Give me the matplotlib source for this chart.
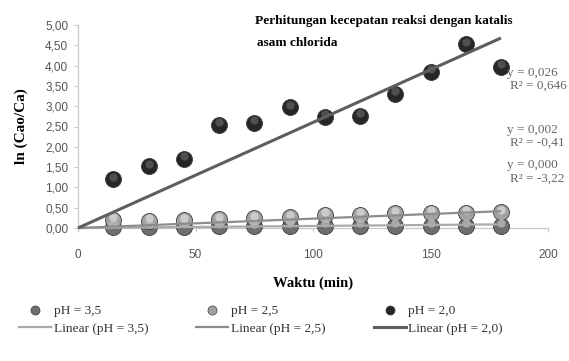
import matplotlib
matplotlib.use("Agg")
import matplotlib.pyplot as plt
import matplotlib.transforms as mtransforms
from matplotlib.lines import Line2D
from matplotlib.ticker import FuncFormatter
import numpy as np

# ---- data ----
waktu = [15, 30, 45, 60, 75, 90, 105, 120, 135, 150, 165, 180]
ph35 = [0.03, 0.03, 0.03, 0.04, 0.04, 0.05, 0.05, 0.05, 0.05, 0.06, 0.06, 0.06]
ph25 = [0.20, 0.18, 0.19, 0.22, 0.24, 0.27, 0.33, 0.33, 0.36, 0.37, 0.38, 0.39]
ph20 = [1.20, 1.52, 1.71, 2.54, 2.59, 2.97, 2.74, 2.77, 3.31, 3.85, 4.52, 3.97]
slopes = [0.0005, 0.0023, 0.026]
series_names = ["pH = 3,5", "pH = 2,5", "pH = 2,0"]
# trendline labels as visible in the reference (cut off at the right edge there)
trend_labels = [("y = 0,000", "R\u00b2 = -3,22"),
                ("y = 0,002", "R\u00b2 = -0,41"),
                ("y = 0,026", "R\u00b2 = 0,646")]
title_lines = ["Perhitungan kecepatan reaksi dengan katalis", "asam chlorida"]
xticks = [0, 50, 100, 150, 200]
yticks = [0, 0.5, 1, 1.5, 2, 2.5, 3, 3.5, 4, 4.5, 5]

serif = ["Liberation Serif", "DejaVu Serif"]
sans = ["Liberation Sans", "DejaVu Sans"]

fig = plt.figure(figsize=(5.69, 3.61), dpi=100)
ax = fig.add_axes([78/569, (361-228)/361, (548-78)/569, (228-25)/361])

mk_colors = ["#6e6e6e", "#a2a2a2", "#262626"]
hl_colors = ["#b8b8b8", "#d6d6d6", "#5a5a5a"]
ln_colors = ["#aaaaaa", "#8c8c8c", "#5e5e5e"]
ln_widths = [1.6, 1.6, 2.2]

hl_trans = mtransforms.offset_copy(ax.transData, fig=fig, x=0, y=2.5, units="dots")
for vals, mc, hc in zip([ph35, ph25, ph20], mk_colors, hl_colors):
    ax.plot(waktu, vals, linestyle="none", marker="o", ms=11.5,
            mfc=mc, mec="#3a3a3a", mew=0.6, zorder=3, clip_on=False)
    ax.plot(waktu, vals, linestyle="none", marker="o", ms=6,
            mfc=hc, mec="none", alpha=0.8, transform=hl_trans, zorder=3.5,
            clip_on=False)

xfit = np.array([0, max(waktu)])
for s, c, w in zip(slopes, ln_colors, ln_widths):
    ax.plot(xfit, s * xfit, color=c, lw=w, zorder=4, solid_capstyle="butt",
            clip_on=False)

ax.set_xlim(0, 200)
ax.set_ylim(0, 5)
ax.set_xticks(xticks)
ax.set_yticks(yticks)
ax.yaxis.set_major_formatter(FuncFormatter(lambda v, p: f"{v:.2f}".replace(".", ",")))
for sp in ["top", "right"]:
    ax.spines[sp].set_visible(False)
for sp in ["left", "bottom"]:
    ax.spines[sp].set_color("#c8c8c8")
    ax.spines[sp].set_linewidth(0.9)
ax.tick_params(axis="both", colors="#c8c8c8", labelcolor="#555555",
               labelsize=8.5, length=3, width=0.8)
for lab in ax.get_xticklabels() + ax.get_yticklabels():
    lab.set_family(sans)
ax.tick_params(axis="x", pad=12)
ax.tick_params(axis="y", pad=4)

ax.set_xlabel("Waktu (min)", family=serif, fontweight="bold", fontsize=10.5, labelpad=11)
ax.set_ylabel("ln (Cao/Ca)", family=serif, fontweight="bold", fontsize=11, labelpad=12)

fig.text(384/569, 1 - 21/361, title_lines[0], family=serif, fontweight="bold",
         fontsize=9.6, ha="center", va="center")
fig.text(297/569, 1 - 43/361, title_lines[1], family=serif, fontweight="bold",
         fontsize=9.6, ha="center", va="center")

lab_pos = [(165, 179), (130, 143), (73, 86)]
for (eq, r2), (y1, y2) in zip(trend_labels, lab_pos):
    fig.text(507/569, 1 - y1/361, eq, family=serif, fontsize=9.5, color="#666666",
             ha="left", va="center")
    fig.text(510/569, 1 - y2/361, r2, family=serif, fontsize=9.5, color="#666666",
             ha="left", va="center")

handles = []
for name, mc, lc, lw in zip(series_names, mk_colors, ln_colors, ln_widths):
    handles.append(Line2D([], [], linestyle="none", marker="o", ms=6.5,
                          mfc=mc, mec="#3a3a3a", mew=0.5, label=name))
    handles.append(Line2D([], [], color=lc, lw=lw, label=f"Linear ({name})"))
leg = fig.legend(handles=handles, ncol=3, loc="upper left",
                 bbox_to_anchor=(19/569, 1 - 305/361), frameon=False,
                 prop={"family": serif, "size": 9.6}, handlelength=2.4,
                 handletextpad=0.2, columnspacing=3.6, labelspacing=0.4,
                 borderaxespad=0, borderpad=0)
for t in leg.get_texts():
    t.set_color("#333333")

fig.savefig("out.png", dpi=100)
